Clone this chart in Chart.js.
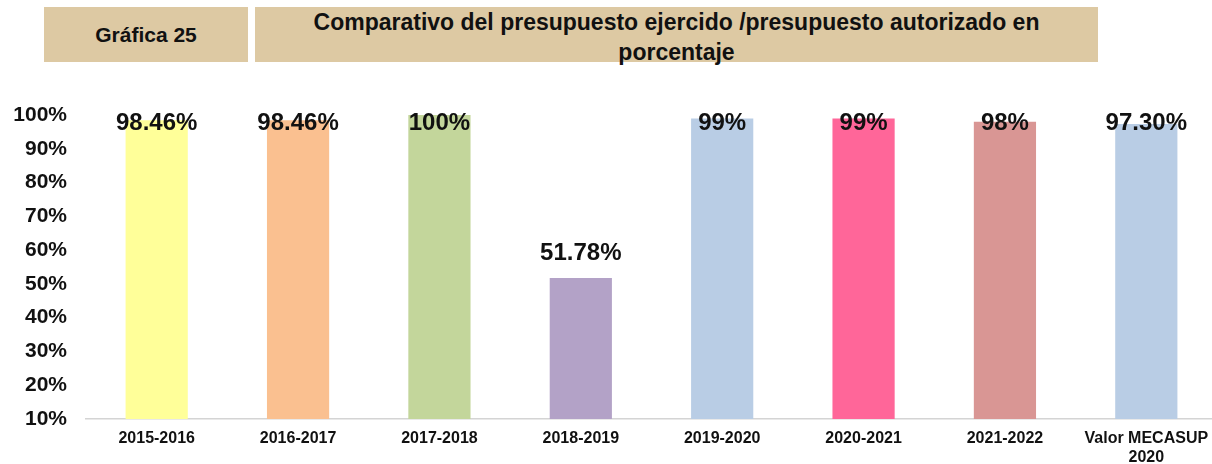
<!DOCTYPE html>
<html>
<head>
<meta charset="utf-8">
<script src="https://cdn.jsdelivr.net/npm/chart.js@4"></script>
<style>
  html, body { margin: 0; padding: 0; background: #fff; overflow: hidden; }
  body { width: 1212px; height: 464px; position: relative; font-family: 'Liberation Sans', Arial, sans-serif; }
  .box { position: absolute; top: 7px; height: 55px; background: #ddc9a3; color: #111; font-weight: bold; text-align: center; }
  #tag { left: 44px; width: 204px; font-size: 21px; line-height: 55px; }
  #title { left: 255px; width: 843px; font-size: 23px; line-height: 30px; }
  #wrap { position: absolute; left: 0; top: 0; width: 1232px; height: 464px; }
</style>
</head>
<body>
<div class="box" id="tag">Gráfica 25</div>
<div class="box" id="title">Comparativo del presupuesto ejercido /presupuesto autorizado en<br>porcentaje</div>
<div id="wrap"><canvas id="chart"></canvas></div>

<script>
const periods = ['2015-2016', '2016-2017', '2017-2018', '2018-2019', '2019-2020', '2020-2021', '2021-2022', ['Valor MECASUP', '2020']];
const percents = [98.46, 98.46, 100, 51.78, 99, 99, 98, 97.30];
const barColors = ['#ffff99', '#fac090', '#c3d69b', '#b3a2c7', '#b9cde5', '#ff6699', '#d99694', '#b9cde5'];
const yTicks = [10, 20, 30, 40, 50, 60, 70, 80, 90, 100];

const font = "'Liberation Sans', Arial, sans-serif";

// value labels above each bar, kept inside the plot like in the original
const valueLabels = {
  id: 'valueLabels',
  afterDatasetsDraw(chart) {
    const ctx = chart.ctx;
    const top = chart.chartArea.top;
    ctx.save();
    ctx.font = 'bold 24px ' + font;
    ctx.fillStyle = '#111';
    ctx.textAlign = 'center';
    ctx.textBaseline = 'middle';
    chart.getDatasetMeta(0).data.forEach((bar, i) => {
      const v = percents[i];
      const txt = Number.isInteger(v) ? v + '%' : v.toFixed(2) + '%';
      ctx.fillText(txt, bar.x, Math.max(bar.y - 25, top + 8));
    });
    ctx.restore();
  }
};

new Chart(document.getElementById('chart'), {
  type: 'bar',
  data: {
    labels: periods,
    datasets: [{
      data: percents,
      backgroundColor: barColors,
      barPercentage: 0.44,
      categoryPercentage: 1
    }]
  },
  options: {
    responsive: true,
    maintainAspectRatio: false,
    animation: false,
    layout: { padding: { top: 115, right: 15, left: 0, bottom: 0 } },
    plugins: { legend: { display: false }, tooltip: { enabled: false } },
    scales: {
      x: {
        grid: { display: false, drawTicks: false },
        border: { display: true, color: '#d4d4d4', width: 1.5 },
        ticks: { color: '#111', font: { family: font, size: 16, weight: 'bold' }, padding: 10, maxRotation: 0, autoSkip: false },
        afterFit: s => { s.height = 45; }
      },
      y: {
        min: 10,
        max: 100,
        afterBuildTicks: s => { s.ticks = yTicks.map(v => ({ value: v })); },
        grid: { display: false, drawTicks: false },
        border: { display: false },
        ticks: { color: '#111', font: { family: font, size: 21, weight: 'bold' }, padding: 19, callback: v => v + '%' },
        afterFit: s => { s.width = 86; }
      }
    }
  },
  plugins: [valueLabels]
});
</script>
</body>
</html>
